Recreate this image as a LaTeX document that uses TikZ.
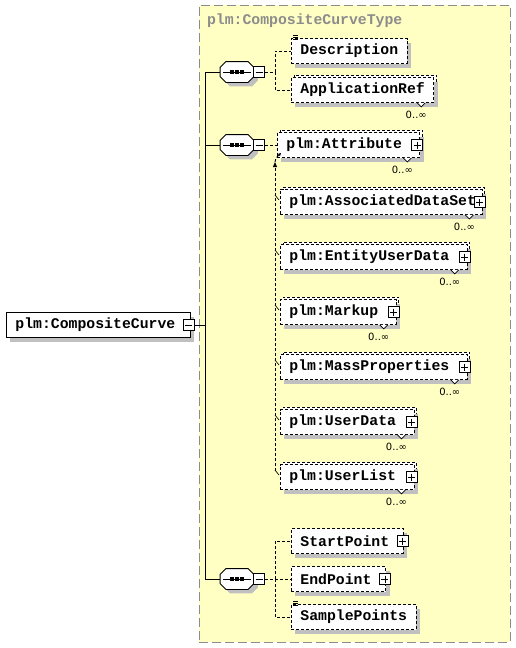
\documentclass[tikz,border=0pt]{standalone}
\usepackage{fontspec}
\newfontfamily\xsdfont{Liberation Mono}
\newfontfamily\multfont{DejaVu Sans}
\usetikzlibrary{positioning, shadows, arrows.meta}
\definecolor{typefill}{HTML}{FFFFC4}
\definecolor{typeline}{HTML}{8C8C8C}
\definecolor{shade}{HTML}{C0C0C0}

\begin{document}
\begin{tikzpicture}[
    x=1pt, y=-1pt, line width=0.9pt,
    every node/.style = {inner sep=0pt},
    typebox/.style = {draw=typeline, fill=typefill, dash pattern=on 9pt off 4pt, minimum width=311pt, minimum height=637pt},
    title/.style   = {text=typeline, font=\xsdfont\bfseries\fontsize{14.8}{15}\selectfont},
    shadowed/.style = {drop shadow={shadow xshift=4pt, shadow yshift=-4pt, fill=shade, opacity=1}},
    elem/.style    = {draw, fill=white, font=\xsdfont\bfseries\fontsize{14.8}{15}\selectfont,
                      minimum height=25pt, anchor=west, execute at begin node={\hspace{9pt}}, shadowed},
    rpad/.style    = {execute at end node={\hspace{#1}}},
    opt/.style     = {elem, dash pattern=on 3pt off 2pt},
    many/.style    = {copy shadow={shadow xshift=2.5pt, shadow yshift=2.5pt, draw=black, fill=white, dash pattern=on 3pt off 2pt}, opt},
    seq/.style     = {minimum width=33pt, minimum height=20pt},
    minusbox/.style = {draw, solid, fill=white, minimum size=11pt, line width=0.8pt,
                      path picture={\draw ([xshift=2pt]path picture bounding box.west) -- ([xshift=-2pt]path picture bounding box.east);}},
    plusbox/.style = {draw, solid, fill=white, minimum size=11pt, line width=0.8pt,
                      path picture={\draw ([xshift=2pt]path picture bounding box.west) -- ([xshift=-2pt]path picture bounding box.east);
                                    \draw ([yshift=-2pt]path picture bounding box.north) -- ([yshift=2pt]path picture bounding box.south);}},
    optline/.style = {dash pattern=on 3pt off 2pt},
    subline/.style = {dash pattern=on 3pt off 2pt},
    notch/.style   = {solid, fill=white, line width=0.7pt},
    mult/.style    = {font=\multfont\fontsize{10}{10}\selectfont}
]
\useasboundingbox (0,0) rectangle (515,648);

% complex type area
\node[typebox] (ctype) at (354.5,323.5) {};
\node[title, below right=9pt and 8pt of ctype.north west] (ctitle) {plm:CompositeCurveType};

% global element
\node[elem, rpad=15pt] (cc) at (6,325) {plm:CompositeCurve};
\node[minusbox] (ccm) at (188.5,325) {};

% sequences
\node[seq] (seq1) at (237,72)  {};
\node[seq] (seq2) at (237,145) {};
\node[seq] (seq3) at (237,579) {};
\foreach \s in {seq1, seq2, seq3} {
  \draw[fill=white, shadowed] ([xshift=6pt]\s.north west) -- ([xshift=-6pt]\s.north east)
    -- ([yshift=-6pt]\s.north east) -- ([yshift=6pt]\s.south east)
    -- ([xshift=-6pt]\s.south east) -- ([xshift=6pt]\s.south west)
    -- ([yshift=6pt]\s.south west) -- ([yshift=-6pt]\s.north west) -- cycle;
  \draw ([xshift=3pt]\s.west) -- ([xshift=-3pt]\s.east);
  \foreach \d in {-5,0,5}
    \fill ([xshift=\d pt]\s.center) +(-1.7,-1.7) rectangle +(1.7,1.7);
}
\node[minusbox] (seq1m) at (259,72)  {};
\node[minusbox] (seq2m) at (259,145) {};
\node[minusbox] (seq3m) at (259,579) {};

% bus from the element to the sequences
\coordinate (bustop) at (205,72);
\coordinate (busbot) at (205,579);
\draw (bustop) -- (busbot);
\draw (ccm.east) -- (ccm.east -| bustop);
\draw (bustop) -- (seq1.west);
\draw (seq2.west -| bustop) -- (seq2.west);
\draw (busbot) -- (seq3.west);

% first sequence
\node[opt, rpad=9pt]  (desc)   at (291,51) {Description};
\node[many, rpad=9pt] (appref) at (291,90) {ApplicationRef};

% second sequence: attribute and its substitutes
\node[many, rpad=18pt] (attr)   at (277,145) {plm:Attribute};
\node[many, rpad=6pt]  (ads)    at (280,202) {plm:AssociatedDataSet};
\node[many, rpad=18pt] (eud)    at (280,257) {plm:EntityUserData};
\node[many, rpad=18pt] (markup) at (280,312) {plm:Markup};
\node[many, rpad=18pt] (massp)  at (280,367) {plm:MassProperties};
\node[many, rpad=18pt] (udata)  at (280,422) {plm:UserData};
\node[many, rpad=18pt] (ulist)  at (280,477) {plm:UserList};

% third sequence
\node[opt, rpad=14pt] (startp)  at (291,541) {StartPoint};
\node[opt, rpad=14pt] (endp)    at (291,579) {EndPoint};
\node[opt, rpad=9pt]  (samplep) at (291,617) {SamplePoints};

% expand boxes
\foreach \n in {attr, ads, eud, markup, massp, udata, ulist}
  \node[plusbox] (\n-p) at ([xshift=-3pt]\n.east) {};
\node[plusbox] (startp-p) at ([xshift=-1pt]startp.east) {};
\node[plusbox] (endp-p)   at ([xshift=-1pt]endp.east) {};

% simple content marks
\foreach \n in {desc, samplep}
  \foreach \k in {3,1,-1}
    \draw[line width=0.6pt] ([xshift=2pt, yshift=\k pt]\n.north west) -- ++(5,0);

% occurrences
\foreach \n in {appref, attr, ads, eud, markup, massp, udata, ulist} {
  \draw[notch] ([xshift=-17pt]\n.south east) -- ++(4,4) -- ++(4,-4);
  \node[mult, below left=8pt and 7pt of \n.south east] (\n-m) {0..∞};
}

% connectors from the sequences
\coordinate (fork1) at (275,72);
\coordinate (fork3) at (275,579);
\draw[optline] (seq1m.east) -- (fork1) |- (desc.west);
\draw[optline] (fork1) |- (appref.west);
\draw[optline] (seq2m.east) -- (attr.west);
\draw[optline] (seq3m.east) -- (endp.west);
\draw[optline] (fork3) |- (startp.west);
\draw[optline] (fork3) |- (samplep.west);

% substitution group
\coordinate (subbot)  at (275,471);
\coordinate (subtip)  at (275,162);
\coordinate (subhead) at (281,153);
\draw[subline, -{Triangle[length=5pt, width=4pt]}] (subbot) -- (subtip);
\draw[subline, -{Triangle[length=3pt, width=3pt]}] (subtip) -- ++(1,-4) -- (subhead);
\foreach \n in {ads, eud, markup, massp, udata, ulist}
  \draw[line width=0.7pt] ([xshift=-1pt, yshift=2pt]\n.west) -- ++(-4,-5);

\end{tikzpicture}
\end{document}
